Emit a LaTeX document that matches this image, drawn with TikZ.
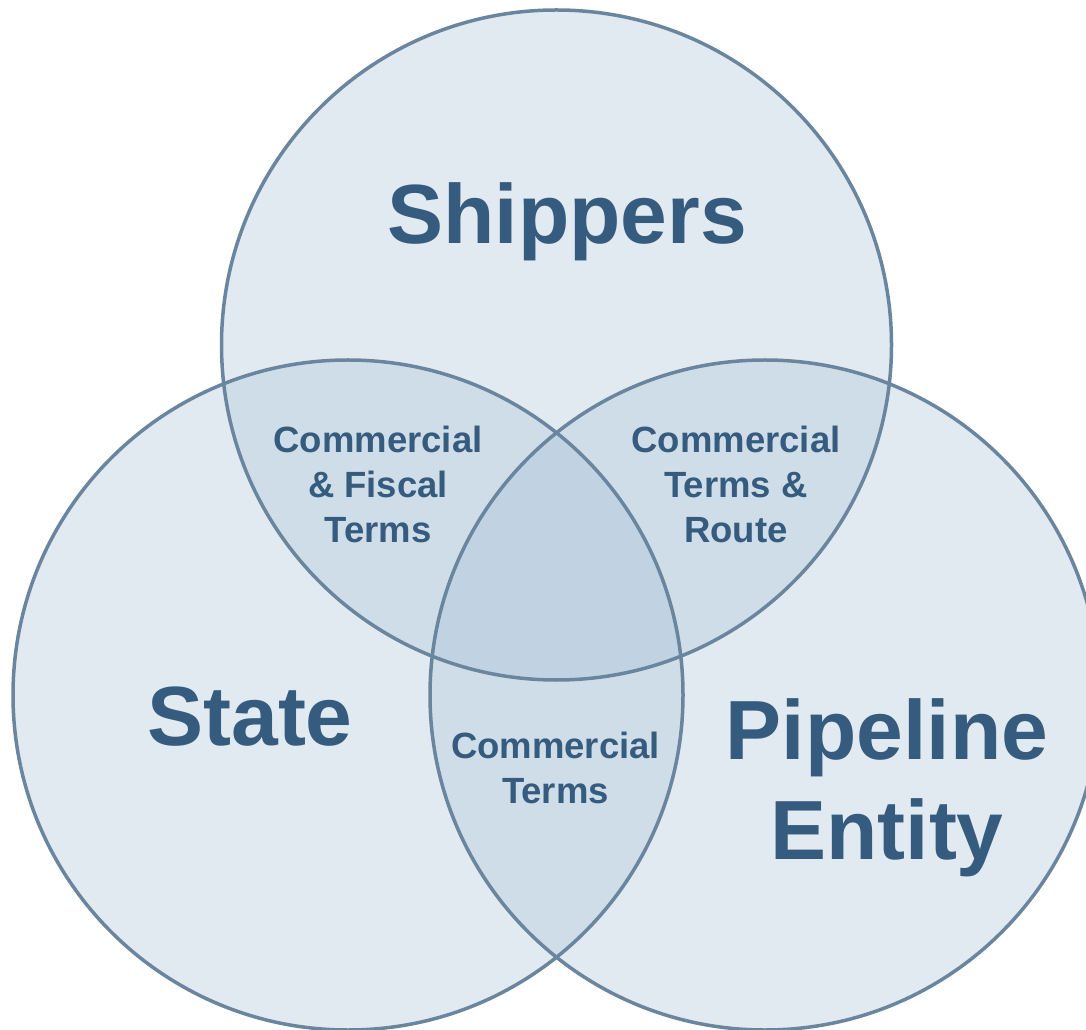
\documentclass[tikz,border=0pt]{standalone}
\usepackage{fontspec}
\setmainfont{Liberation Sans}
\definecolor{ringline}{HTML}{6A869F}
\definecolor{onefill}{HTML}{E1E9F1}
\definecolor{twofill}{HTML}{CFDDE8}
\definecolor{threefill}{HTML}{C1D3E2}
\definecolor{labeltext}{HTML}{355C7E}
\begin{document}
\begin{tikzpicture}[x=1pt,y=1pt,
  ring/.style={draw=ringline,line width=3.5pt},
  bigtext/.style={text=labeltext,font=\bfseries\fontsize{84}{100}\selectfont,align=center,inner sep=0pt,anchor=base},
  smalltext/.style={text=labeltext,font=\bfseries\fontsize{36.5}{45}\selectfont,align=center,inner sep=0pt,anchor=base}]
\useasboundingbox (0,0) rectangle (1086,1029);
\clip (0,0) rectangle (1086,1029);
\def\rad{335}
\coordinate (ship) at (556.5,684);
\coordinate (state) at (348,334);
\coordinate (pipe) at (765,334);
% single areas
\fill[onefill] (ship) circle (\rad) (state) circle (\rad) (pipe) circle (\rad);
% double overlaps
\begin{scope}
\clip (ship) circle (\rad);
\fill[twofill] (state) circle (\rad);
\fill[twofill] (pipe) circle (\rad);
\end{scope}
\begin{scope}
\clip (state) circle (\rad);
\fill[twofill] (pipe) circle (\rad);
\end{scope}
% centre
\begin{scope}
\clip (ship) circle (\rad);
\clip (state) circle (\rad);
\fill[threefill] (pipe) circle (\rad);
\end{scope}
\draw[ring] (ship) circle (\rad);
\draw[ring] (state) circle (\rad);
\draw[ring] (pipe) circle (\rad);
% labels (base = last line)
\node[bigtext] (shiplabel) at (567,785) {Shippers};
\node[bigtext] (statelabel) at (250,284) {State};
\node[bigtext] (pipelabel) at (887,170) {Pipeline\\Entity};
\node[smalltext] (fiscal) at (378,486) {Commercial\\\& Fiscal\\Terms};
\node[smalltext] (route) at (736,486) {Commercial\\Terms \&\\Route};
\node[smalltext] (terms) at (555.5,226) {Commercial\\Terms};
\end{tikzpicture}
\end{document}
